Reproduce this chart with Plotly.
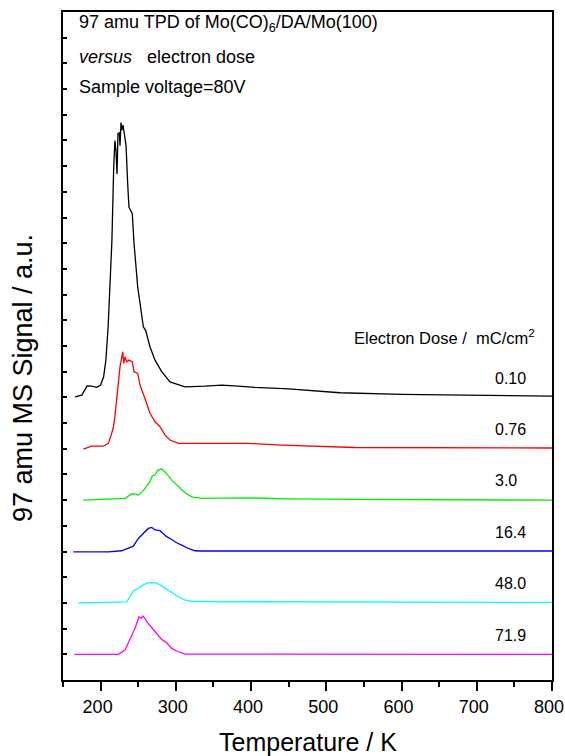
import plotly.graph_objects as go

# ---- data (temperature in K, signal above each trace's own baseline, a.u.) ----
doses = ["0.10", "0.76", "3.0", "16.4", "48.0", "71.9"]
offsets = [11, 9, 7, 5, 3, 1]
colors = ["#000000", "#ff0000", "#00ee00", "#0000ff", "#00ffff", "#ff00ff"]

t_010 = [166, 175, 182, 188, 195, 200, 204, 207, 210, 212.5, 215, 217.4, 219, 220.5, 221.8,
         223.1, 224.8, 225.8, 227.1, 228.4, 229.8, 231.5, 233.8, 236, 237.7, 242.1, 244.4,
         249.3, 256.8, 259.9, 265.6, 272.3, 281.2, 292.2, 303.3, 312.2, 338.8, 361, 383,
         405, 450, 518, 600, 700, 800]
s_010 = [0.02, 0.09, 0.45, 0.44, 0.39, 0.48, 0.8, 1.45, 2.75, 4.3, 6.1, 8.97, 10.0, 9.56, 8.7,
         10.27, 10.3, 9.8, 10.7, 10.4, 10.6, 10.27, 9.8, 8.3, 7.4, 7.15, 6.0,
         4.3, 2.75, 2.6, 1.97, 1.45, 1.0, 0.6, 0.48, 0.41, 0.44, 0.48, 0.44,
         0.39, 0.33, 0.18, 0.12, 0.08, 0.05]

t_076 = [177, 188, 203.6, 210.3, 214.7, 217, 219, 221.4, 225.8, 229.4, 230.7, 232.4, 234.7,
         237.7, 242.1, 244.4, 249.3, 252.4, 256.8, 261.3, 265.6, 272.3, 279, 285.6, 292.2,
         303.3, 352, 396, 440.7, 485, 538, 800]
s_076 = [-0.01, 0.1, 0.1, 0.21, 0.6, 0.85, 1.25, 2.0, 3.19, 3.77, 3.32, 3.58, 3.38,
         3.45, 3.38, 3.0, 2.93, 2.48, 2.16, 1.76, 1.38, 1.05, 0.86, 0.53, 0.34,
         0.21, 0.21, 0.21, 0.14, 0.1, 0.05, 0.03]

t_30 = [177, 221.4, 232.4, 241.3, 245.7, 250.1, 256.8, 265.6, 268.7, 272.3, 275.9, 281.2,
        285.6, 294.5, 303.3, 312.2, 321.1, 334.4, 396, 449.5, 538, 800]
s_30 = [0.0, 0.04, 0.07, 0.24, 0.24, 0.2, 0.37, 0.72, 0.94, 0.98, 1.17, 1.21,
        1.1, 0.78, 0.52, 0.29, 0.13, 0.07, 0.09, 0.05, 0.03, 0.0]

t_164 = [163.7, 210.3, 228, 236.8, 243.5, 250.1, 256.8, 263.4, 268, 272.3, 279, 283.4,
         287.8, 294.5, 301.1, 307.8, 316.6, 325.5, 334.4, 800]
s_164 = [-0.01, -0.01, 0.03, 0.12, 0.21, 0.51, 0.7, 0.9, 0.94, 0.84, 0.81, 0.7,
         0.58, 0.47, 0.34, 0.25, 0.12, 0.03, 0.02, 0.02]

t_480 = [170.3, 234.7, 239, 243.5, 250.1, 256.8, 263.4, 272.3, 279, 285.6, 294.5, 303.3,
         312.2, 323.2, 800]
s_480 = [0.0, 0.04, 0.24, 0.47, 0.57, 0.7, 0.79, 0.79, 0.7, 0.57, 0.4, 0.24,
         0.11, 0.05, 0.02]

t_719 = [165, 223.5, 232.4, 239, 245.7, 251, 253.7, 255.9, 259, 261.3, 268, 274.6, 281.2,
         287.8, 294.5, 303.3, 312.2, 800]
s_719 = [0.0, 0.0, 0.17, 0.56, 1.01, 1.46, 1.4, 1.49, 1.4, 1.27, 1.05, 0.82, 0.58,
         0.45, 0.23, 0.1, 0.01, 0.0]

temps = [t_010, t_076, t_30, t_164, t_480, t_719]
signals = [s_010, s_076, s_30, s_164, s_480, s_719]

FONT = "Liberation Sans, Arial, sans-serif"

fig = go.Figure()
for t, s, off, c in zip(temps, signals, offsets, colors):
    fig.add_trace(go.Scatter(x=t, y=[v + off for v in s], mode="lines",
                             line=dict(color=c, width=1.3), showlegend=False))

ann = []
# dose labels
for d, off in zip(doses, offsets):
    ann.append(dict(x=721, y=off + 0.75, xref="x", yref="y", text=d, showarrow=False,
                    xanchor="left", yanchor="middle", font=dict(size=16, color="black", family=FONT)))
ann.append(dict(x=534, y=13.35, xref="x", yref="y", text="Electron Dose /\u00a0\u00a0mC/cm<sup>2</sup>",
                showarrow=False, xanchor="left", yanchor="middle",
                font=dict(size=16.5, color="black", family=FONT)))
# header lines
hdr = ["97 amu TPD of Mo(CO)<sub>6</sub>/DA/Mo(100)",
       "<i>versus</i>\u00a0\u00a0\u00a0electron dose",
       "Sample voltage=80V"]
hdr_y = [0.9835, 0.9326, 0.8877]
for txt, yy in zip(hdr, hdr_y):
    ann.append(dict(x=0.0286, y=yy, xref="paper", yref="paper", text=txt, showarrow=False,
                    xanchor="left", yanchor="middle", font=dict(size=18, color="black", family=FONT)))
# axis titles
ann.append(dict(x=0.5, y=-0.0928, xref="paper", yref="paper", text="Temperature / K",
                showarrow=False, xanchor="center", yanchor="middle",
                font=dict(size=25, color="black", family=FONT)))
ann.append(dict(x=-0.0818, y=0.452, xref="paper", yref="paper", text="97 amu MS Signal / a.u.",
                showarrow=False, xanchor="center", yanchor="middle", textangle=-90,
                font=dict(size=27, color="black", family=FONT)))

fig.update_layout(
    width=565, height=756,
    margin=dict(l=63, r=13, t=12, b=76),
    paper_bgcolor="white", plot_bgcolor="white",
    annotations=ann,
    xaxis=dict(range=[150, 800], dtick=100, tick0=0, showgrid=False, zeroline=False,
               showline=True, linecolor="black", linewidth=2, mirror=True,
               ticks="outside", ticklen=9, tickwidth=2, tickcolor="black",
               ticklabeloverflow="allow", automargin=False, ticklabelshift=-3,
               minor=dict(dtick=50, tick0=0, ticks="outside", ticklen=5, tickwidth=2, tickcolor="black"),
               tickfont=dict(size=18, color="black", family=FONT)),
    yaxis=dict(range=[0, 26], dtick=1, tick0=0, showgrid=False, zeroline=False,
               showline=True, linecolor="black", linewidth=2, mirror=True,
               ticks="inside", ticklen=4, tickwidth=1.5, tickcolor="black",
               showticklabels=False),
)

fig.write_html("out.html")
